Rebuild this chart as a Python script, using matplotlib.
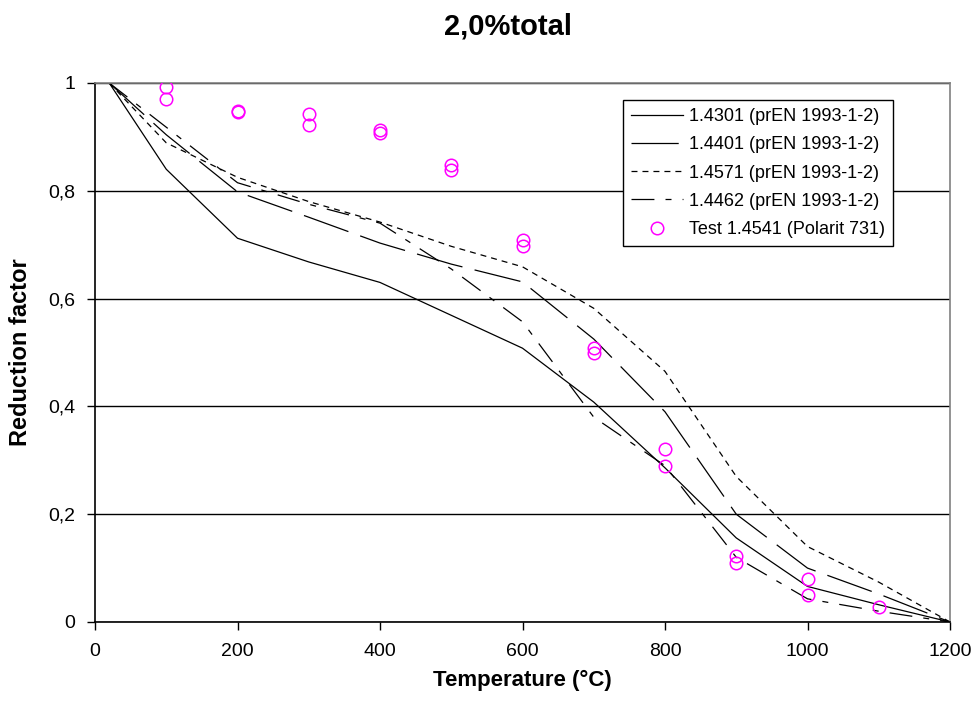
import matplotlib
matplotlib.use('Agg')
import matplotlib.pyplot as plt
from matplotlib.ticker import MultipleLocator, FuncFormatter

plt.rcParams['font.family'] = ['Liberation Sans', 'DejaVu Sans']
plt.rcParams['lines.scale_dashes'] = False

temps = [20, 100, 200, 300, 400, 500, 600, 700, 800, 900, 1000, 1100, 1200]

k_14301 = [1.0, 0.84, 0.712, 0.668, 0.630, 0.569, 0.508, 0.408, 0.286, 0.156, 0.066, 0.032, 0.0]
k_14401 = [1.0, 0.904, 0.798, 0.751, 0.703, 0.664, 0.631, 0.525, 0.39, 0.2, 0.10, 0.052, 0.0]
k_14571 = [1.0, 0.889, 0.825, 0.78, 0.742, 0.697, 0.659, 0.582, 0.465, 0.27, 0.14, 0.074, 0.0]
k_14462 = [1.0, 0.918, 0.815, 0.775, 0.74, 0.655, 0.557, 0.38, 0.29, 0.12, 0.043, 0.02, 0.0]

test_t = [100, 100, 200, 200, 300, 300, 400, 400, 500, 500, 600, 600,
          700, 700, 800, 800, 900, 900, 1000, 1000, 1100]
test_k = [0.993, 0.970, 0.948, 0.946, 0.942, 0.922, 0.913, 0.908, 0.847, 0.838, 0.708, 0.698,
          0.509, 0.500, 0.321, 0.289, 0.122, 0.109, 0.080, 0.050, 0.028]

fig = plt.figure(figsize=(9.76, 7.04), dpi=100)
ax = fig.add_axes([95/976, 1 - 622/704, 855/976, 539/704])

ax.plot(temps, k_14301, color='black', lw=0.9, label='1.4301 (prEN 1993-1-2)')
ax.plot(temps, k_14401, color='black', lw=0.9, dashes=(34, 9), label='1.4401 (prEN 1993-1-2)')
ax.plot(temps, k_14571, color='black', lw=0.9, dashes=(4.3, 3.6), label='1.4571 (prEN 1993-1-2)')
ax.plot(temps, k_14462, color='black', lw=0.9, dashes=(16.5, 8, 4.3, 8), label='1.4462 (prEN 1993-1-2)')
ax.plot(test_t, test_k, linestyle='none', marker='o', markersize=9, markerfacecolor='none',
        markeredgecolor='#FF00FF', markeredgewidth=1.1, label='Test 1.4541 (Polarit 731)', zorder=5)

ax.set_xlim(0, 1200)
ax.set_ylim(0, 1)
ax.xaxis.set_major_locator(MultipleLocator(200))
ax.yaxis.set_major_locator(MultipleLocator(0.2))
ax.yaxis.set_major_formatter(FuncFormatter(lambda v, p: '0' if v == 0 else ('1' if abs(v - 1) < 1e-9 else f'{v:.1f}'.replace('.', ','))))
ax.grid(axis='y', color='black', lw=1.0)
ax.set_axisbelow(True)

ax.tick_params(direction='out', length=6, width=1, labelsize=14, pad=8)
ax.tick_params(axis='x', pad=9)
for s in ['left', 'bottom']:
    ax.spines[s].set_color('black')
    ax.spines[s].set_linewidth(1.2)
for s in ['top', 'right']:
    ax.spines[s].set_color('#808080')
    ax.spines[s].set_linewidth(1.2)

ax.set_xlabel('Temperature (°C)', fontsize=16, fontweight='bold', labelpad=7)
ax.set_ylabel('Reduction factor', fontsize=17, fontweight='bold', labelpad=12)
fig.text(0.52, 0.962, '2,0%total', fontsize=21, fontweight='bold', ha='center', va='center')

leg = ax.legend(loc='upper left', bbox_to_anchor=(623/976, 1 - 100/704), bbox_transform=fig.transFigure,
                borderaxespad=0, fancybox=False, framealpha=1, edgecolor='black', fontsize=13,
                handlelength=2.9, handletextpad=0.3, labelspacing=0.62, borderpad=0.45, numpoints=1)
leg.get_frame().set_linewidth(1.0)

fig.savefig('out.png', dpi=100)
